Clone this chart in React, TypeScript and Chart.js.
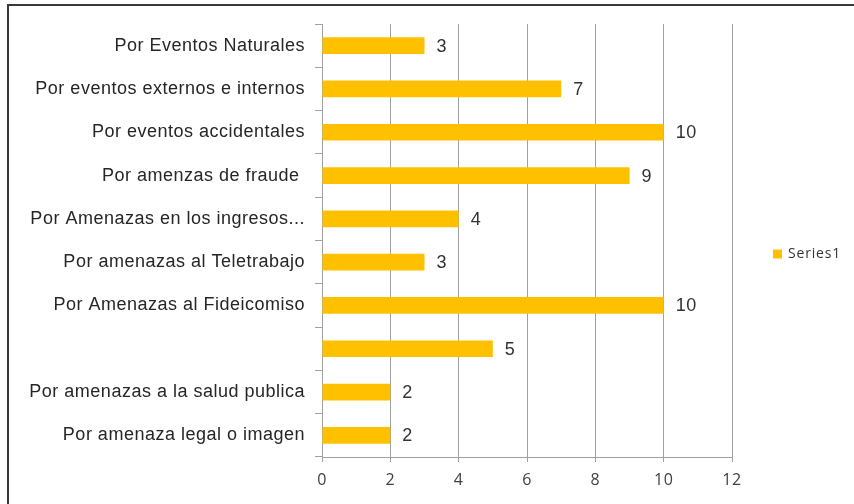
import React, { useEffect, useRef } from 'react';
import { Chart, registerables } from 'chart.js';

Chart.register(...registerables);

const categories = [
  'Por Eventos Naturales',
  'Por eventos externos e internos',
  'Por eventos accidentales',
  'Por amenzas de fraude ',
  'Por Amenazas en los ingresos...',
  'Por amenazas al Teletrabajo',
  'Por Amenazas al Fideicomiso',
  '',
  'Por amenazas a la salud publica',
  'Por amenaza legal o imagen',
];
const values = [3, 7, 10, 9, 4, 3, 10, 5, 2, 2];
const seriesName = 'Series1';
const xMin = 0;
const xMax = 12;
const xStep = 2;

const BAR_COLOR = '#FFC000';
const GRID_COLOR = '#a0a0a0';

const spacingPlugin = {
  id: 'spacing',
  beforeDraw(chart: any) {
    chart.ctx.letterSpacing = '0.5px';
  },
};

const labelPlugin = {
  id: 'barLabels',
  afterDatasetsDraw(chart: any) {
    const ctx = chart.ctx;
    const meta = chart.getDatasetMeta(0);
    ctx.save();
    ctx.letterSpacing = '0.5px';
    ctx.font = '18px "Liberation Sans", Arial, sans-serif';
    ctx.fillStyle = '#333333';
    ctx.textAlign = 'left';
    ctx.textBaseline = 'middle';
    meta.data.forEach((bar: any, i: number) => {
      ctx.fillText(String(values[i]), bar.x + 12, bar.y + 1);
    });
    ctx.restore();
  },
};

const legendPlugin = {
  id: 'customLegend',
  afterDraw(chart: any) {
    const ctx = chart.ctx;
    const area = chart.chartArea;
    const cy = (area.top + area.bottom) / 2 + 14;
    const x0 = area.right + 41;
    ctx.save();
    ctx.fillStyle = BAR_COLOR;
    ctx.fillRect(x0, cy - 5, 9, 9);
    ctx.letterSpacing = '0.8px';
    ctx.font = '14px "Open Sans", sans-serif';
    ctx.fillStyle = '#333333';
    ctx.textAlign = 'left';
    ctx.textBaseline = 'middle';
    ctx.fillText(seriesName, x0 + 15, cy);
    ctx.restore();
  },
};

export default function App() {
  const ref = useRef<HTMLCanvasElement>(null);

  useEffect(() => {
    if (!ref.current) return;
    const chart = new Chart(ref.current, {
      type: 'bar',
      data: {
        labels: categories,
        datasets: [
          {
            label: seriesName,
            data: values,
            backgroundColor: BAR_COLOR,
            borderWidth: 0,
            barPercentage: 0.386,
            categoryPercentage: 1,
          },
        ],
      },
      options: {
        indexAxis: 'y',
        responsive: false,
        animation: false,
        layout: { padding: { top: 24, right: 122, bottom: 0, left: 0 } },
        plugins: {
          legend: { display: false },
          tooltip: { enabled: false },
        },
        scales: {
          x: {
            min: xMin,
            max: xMax,
            ticks: {
              stepSize: xStep,
              color: '#404040',
              font: { family: '"Open Sans", sans-serif', size: 16 },
              padding: 9,
            },
            grid: {
              color: GRID_COLOR,
              lineWidth: 1,
              tickLength: 5,
              tickColor: GRID_COLOR,
            },
            border: { display: true, color: GRID_COLOR, width: 1 },
            afterFit(scale: any) {
              scale.height = 47;
            },
          },
          y: {
            ticks: {
              color: '#262626',
              font: { family: '"Liberation Sans", Arial, sans-serif', size: 18 },
              padding: 10,
            },
            grid: {
              drawOnChartArea: false,
              tickLength: 7,
              tickColor: GRID_COLOR,
              offset: true,
            },
            border: { display: true, color: GRID_COLOR, width: 1 },
            afterFit(scale: any) {
              scale.width = 322;
            },
          },
        },
      },
      plugins: [spacingPlugin, labelPlugin, legendPlugin],
    });
    return () => chart.destroy();
  }, []);

  return (
    <div>
      <canvas
        ref={ref}
        width={854}
        height={504}
        style={{ position: 'absolute', left: 0, top: 0, width: 854, height: 504, background: '#ffffff' }}
      />
      <div
        style={{
          position: 'absolute',
          left: 7,
          top: 4,
          width: 847,
          height: 500,
          borderLeft: '2px solid #3a3a3a',
          borderTop: '2px solid #3a3a3a',
          boxSizing: 'border-box',
          pointerEvents: 'none',
        }}
      />
    </div>
  );
}
